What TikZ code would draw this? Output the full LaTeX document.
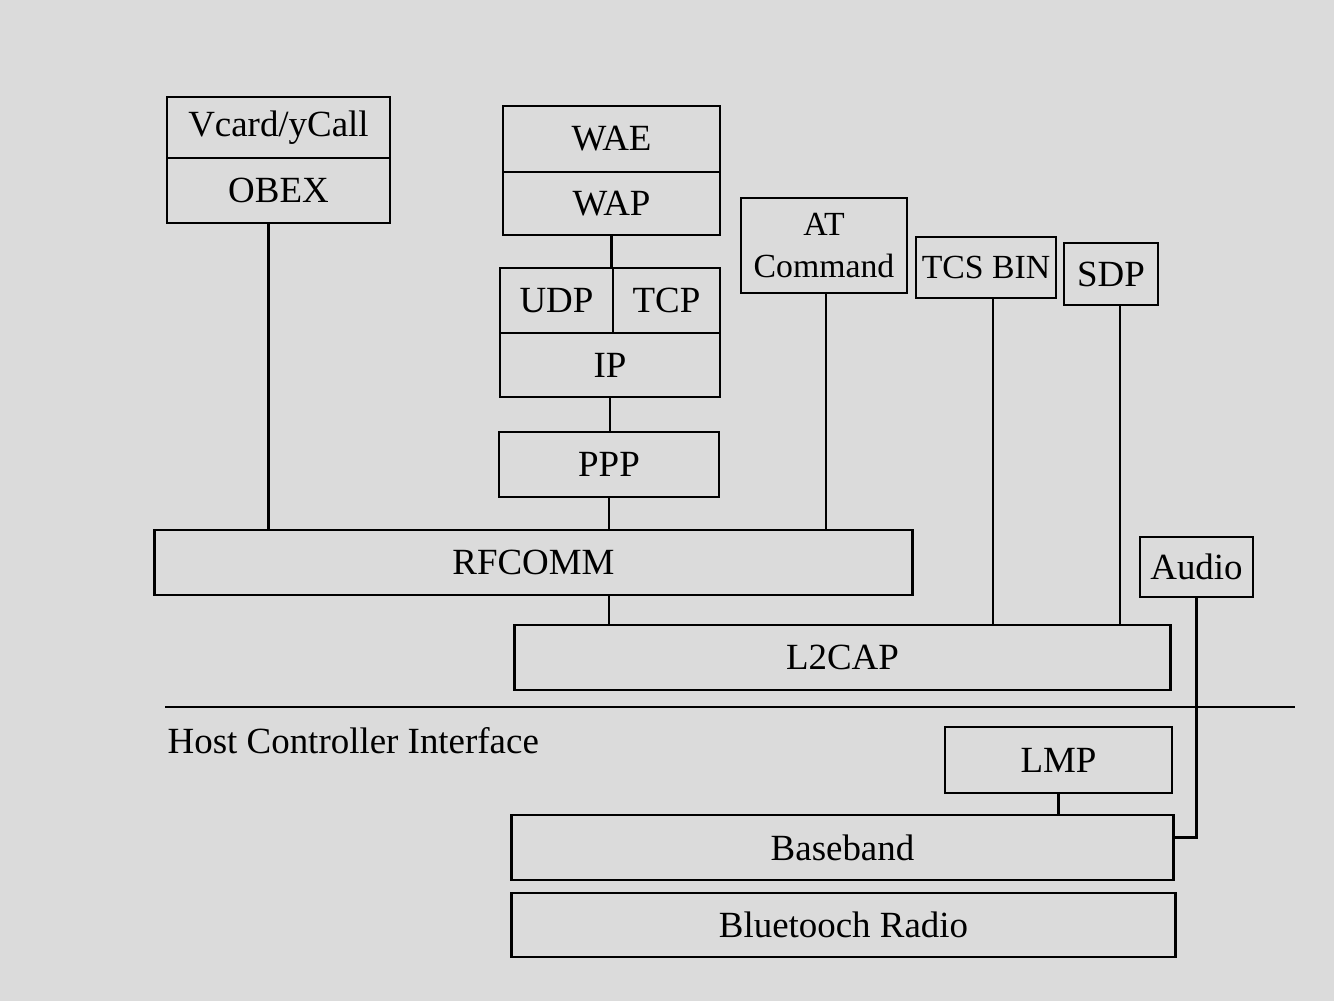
\documentclass[tikz,border=0pt]{standalone}
\usepackage{fontspec}
\setmainfont{Liberation Serif}
\begin{document}
\begin{tikzpicture}[x=0.01cm,y=-0.01cm,
 box/.style={draw,line width=0.8pt,inner sep=0pt,font=\fontsize{10.5}{12.5}\selectfont},
 tightbox/.style={box,font=\fontsize{9.6}{11.8}\selectfont},
 wire/.style={line width=0.8pt}]
 \useasboundingbox[fill=black!14] (0,0) rectangle (1334,1001);
 \node[box,minimum width=2.23cm,minimum height=0.61cm] (vcard) at (278.5,127.5) {Vcard/yCall};
 \node[box,minimum width=2.23cm,minimum height=0.65cm] (obex) at (278.5,190.5) {OBEX};
 \node[box,minimum width=2.17cm,minimum height=0.66cm] (wae) at (611.5,139) {WAE};
 \node[box,minimum width=2.17cm,minimum height=0.63cm] (wap) at (611.5,203.5) {WAP};
 \node[box,minimum width=1.13cm,minimum height=0.65cm] (udp) at (556.5,300.5) {UDP};
 \node[box,minimum width=1.07cm,minimum height=0.65cm] (tcp) at (666.5,300.5) {TCP};
 \node[box,minimum width=2.20cm,minimum height=0.64cm] (ip) at (610,365) {IP};
 \node[box,minimum width=2.20cm,minimum height=0.65cm] (ppp) at (609,464.5) {PPP};
 \node[tightbox,minimum width=1.66cm,minimum height=0.95cm,align=center] (atcmd) at (824,245.5) {AT\\Command};
 \node[tightbox,minimum width=1.40cm,minimum height=0.61cm] (tcsbin) at (986,267.5) {TCS BIN};
 \node[box,minimum width=0.94cm,minimum height=0.62cm] (sdp) at (1111,274) {SDP};
 \node[box,minimum width=7.57cm,minimum height=0.65cm] (rfcomm) at (533.5,562.5) {RFCOMM};
 \node[box,minimum width=1.13cm,minimum height=0.60cm] (audio) at (1196.5,567) {Audio};
 \node[box,minimum width=6.55cm,minimum height=0.65cm] (l2cap) at (842.5,657.5) {L2CAP};
 \coordinate (hcil) at (165,707);
 \coordinate (hcir) at (1295,707);
 \node[anchor=west,inner sep=0pt,font=\fontsize{10.5}{12.5}\selectfont] (hci) at (167,741) {Host Controller Interface};
 \node[box,minimum width=2.27cm,minimum height=0.66cm] (lmp) at (1058.5,760) {LMP};
 \node[box,minimum width=6.61cm,minimum height=0.65cm] (baseband) at (842.5,847.5) {Baseband};
 \node[box,minimum width=6.63cm,minimum height=0.64cm] (radio) at (843.5,925) {Bluetooch Radio};
 \draw[wire] ([xshift=-1mm]obex.south) -- ([xshift=-1mm]obex.south |- rfcomm.north);
 \draw[wire] (wap.south) -- (wap.south |- udp.north);
 \draw[wire] (ip.south) -- (ip.south |- ppp.north);
 \draw[wire] (ppp.south) -- (ppp.south |- rfcomm.north);
 \draw[wire] ([xshift=0.2mm]atcmd.south) -- ([xshift=0.2mm]atcmd.south |- rfcomm.north);
 \draw[wire] ([xshift=0.7mm]tcsbin.south) -- ([xshift=0.7mm]tcsbin.south |- l2cap.north);
 \draw[wire] ([xshift=0.9mm]sdp.south) -- ([xshift=0.9mm]sdp.south |- l2cap.north);
 \draw[wire] (rfcomm.south -| ppp.south) -- (l2cap.north -| ppp.south);
 \draw[wire] (hcil) -- (hcir);
 \draw[wire] (lmp.south) -- (lmp.south |- baseband.north);
 \draw[wire] (audio.south) |- ([yshift=1mm]baseband.east);
\end{tikzpicture}
\end{document}
